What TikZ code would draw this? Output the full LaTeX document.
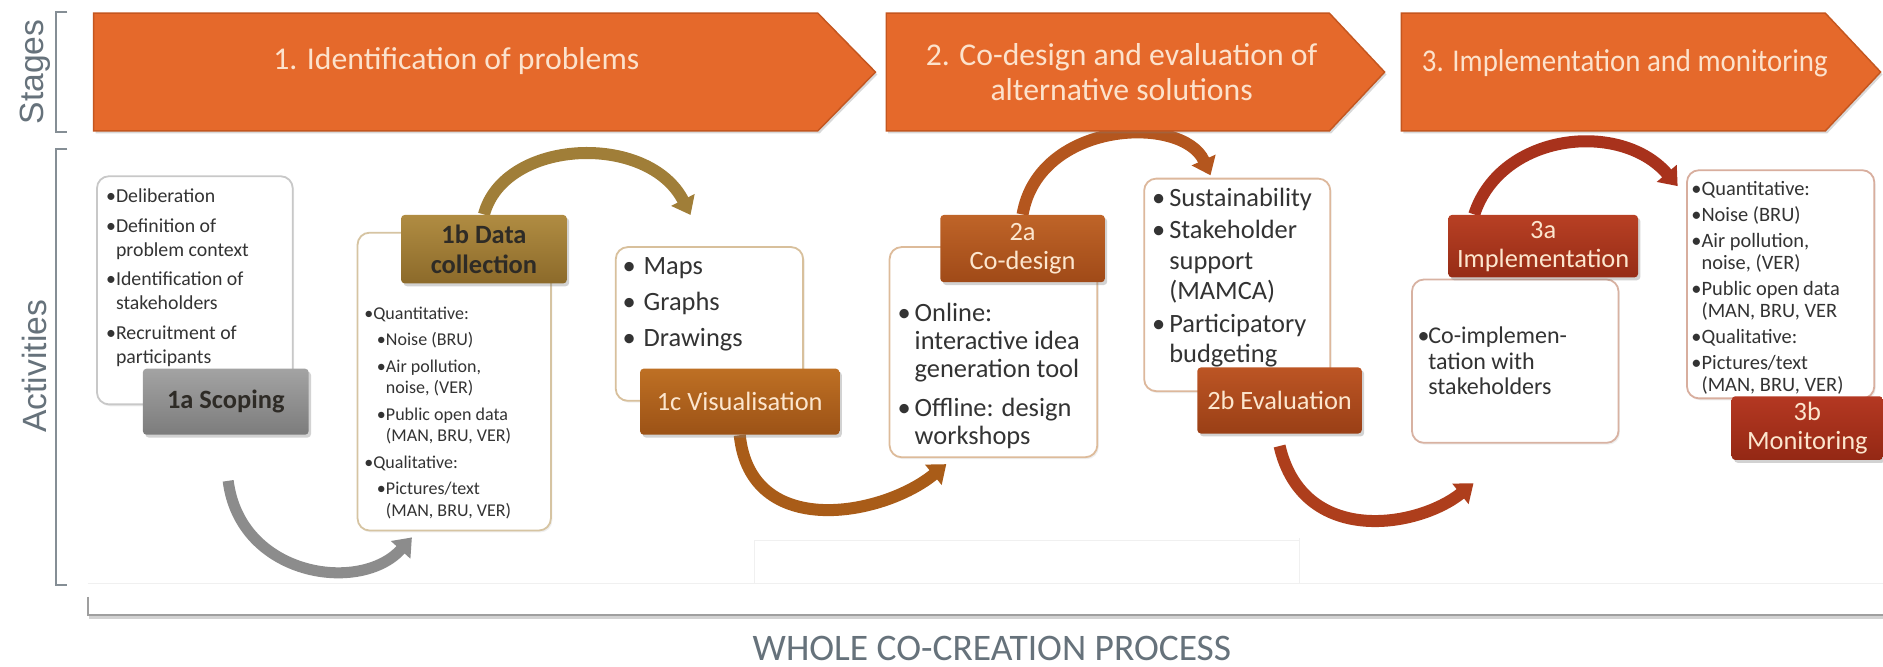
\documentclass[tikz,border=0pt]{standalone}
\usepackage{fontspec}
\setmainfont{Carlito}
\newfontfamily\arialf{Liberation Sans}
\usetikzlibrary{arrows.meta,shadows,calc}
\definecolor{stagefill}{HTML}{E5692B}
\definecolor{stageedge}{HTML}{C4561F}
\definecolor{stagetext}{HTML}{FCE2CC}
\definecolor{axisgray}{HTML}{66727B}
\definecolor{bodytext}{HTML}{333333}
\definecolor{labdark}{HTML}{2E2B26}
\definecolor{lablight}{HTML}{FCE6CE}
\definecolor{bd1a}{HTML}{C8C8C8}
\definecolor{bd1b}{HTML}{D6C4A2}
\definecolor{bd1c}{HTML}{D8C09C}
\definecolor{bd2a}{HTML}{DDBB9A}
\definecolor{bd2b}{HTML}{DDB89C}
\definecolor{bd3a}{HTML}{D8B2A2}
\definecolor{bd3b}{HTML}{D8AE9E}
\definecolor{arcgray}{HTML}{8C8C8C}
\definecolor{arcgold}{HTML}{A07E38}
\definecolor{arcbrown}{HTML}{A95C18}
\definecolor{arcorange}{HTML}{B4561E}
\definecolor{arcred}{HTML}{AE3E1C}
\definecolor{arcdeep}{HTML}{A8321C}
\definecolor{laT}{HTML}{A3A3A3}\definecolor{laB}{HTML}{7C7C7C}
\definecolor{lbT}{HTML}{B08C42}\definecolor{lbB}{HTML}{8C6A2A}
\definecolor{lcT}{HTML}{BE7024}\definecolor{lcB}{HTML}{9C5216}
\definecolor{ldT}{HTML}{BF6428}\definecolor{ldB}{HTML}{A04A18}
\definecolor{leT}{HTML}{BC5524}\definecolor{leB}{HTML}{9A3F16}
\definecolor{lfT}{HTML}{B84024}\definecolor{lfB}{HTML}{962C16}
\definecolor{lgT}{HTML}{B43822}\definecolor{lgB}{HTML}{942814}
\pgfdeclarelayer{bg}
\pgfdeclarelayer{arcs}
\pgfsetlayers{bg,arcs,main}
\newcommand{\bu}[1]{\makebox[#1][l]{•}}
\newcommand{\ind}[1]{\hspace*{#1}}
\begin{document}
\begin{tikzpicture}[x=0.5pt,y=-0.5pt,
  stageshape/.style={fill=stagefill, draw=stageedge, line width=0.6pt,
     drop shadow={shadow xshift=0.8pt, shadow yshift=-1pt, opacity=0.3}},
  stagetxt/.style={text=stagetext, font=\fontsize{13.2}{14.5}\selectfont, align=center, inner sep=0pt},
  sidelabel/.style={rotate=90, text=axisgray, font=\arialf\fontsize{14}{14}\selectfont, inner sep=0pt},
  brk/.style={draw=axisgray!80, line width=0.85pt},
  tbox/.style={draw=#1, fill=white, line width=0.75pt, rounded corners=5pt, anchor=north west, inner sep=0pt,
     drop shadow={shadow xshift=0.6pt, shadow yshift=-0.8pt, opacity=0.12}},
  txt/.style={text=bodytext, align=left, anchor=north west, inner sep=0pt},
  lab/.style={rounded corners=1.5pt, inner sep=0pt, align=center,
     drop shadow={shadow xshift=1pt, shadow yshift=-1.2pt, opacity=0.35}},
  labd/.style={lab, text=labdark, font=\fontsize{11}{12.5}\selectfont\bfseries},
  labl/.style={lab, text=lablight, font=\fontsize{11}{12}\selectfont},
  curvearrow/.style={line width=5pt, -{Triangle[width=10.5pt,length=7pt]}},
]
\begin{pgfonlayer}{bg}
  \fill[white] (0,0) rectangle (1568,555);
\end{pgfonlayer}
\useasboundingbox (0,0) rectangle (1568,555);

% stage arrows
\path[stageshape] (78,11) -- (681,11) -- (729,60) -- (681,109) -- (78,109) -- cycle;
\path[stageshape] (738,11) -- (1107,11) -- (1153,60) -- (1107,109) -- (738,109) -- cycle;
\path[stageshape] (1167,11) -- (1520,11) -- (1566,60) -- (1520,109) -- (1167,109) -- cycle;
\node[stagetxt] (s1) at (380,51) {1. Identification of problems};
\node[stagetxt] (s2) at (934,60) {2. Co-design and evaluation of\\alternative solutions};
\node[stagetxt] (s3) at (1353,53) {\scalebox{0.91}[1]{3. Implementation and monitoring}};

% side labels and brackets
\node[sidelabel] (stg) at (29,60) {Stages};
\node[sidelabel] (act) at (29,305) {Activities};
\draw[brk] (56,10) -- (47,10) -- (47,110) -- (56,110);
\draw[brk] (56,124) -- (47,124) -- (47,487) -- (56,487);

% faint frames
\draw[gray!12, line width=0.5pt] (73,486) -- (1568,486) (628,450) -- (628,486) (1082,448) -- (1082,486) (628,450) -- (1082,450);

% whole process bracket
\draw[gray!35, line width=1.6pt] (74,514) -- (1568,514);
\draw[gray!75, line width=0.7pt] (73,497) -- (73,512) -- (1568,512);
\node[font=\fontsize{15.6}{16}\selectfont, text=axisgray, inner sep=0pt] (whole) at (826,540) {WHOLE CO-CREATION PROCESS};

% text boxes
\node[tbox=bd1a, minimum width=81.5pt, minimum height=95pt] (T1a) at (80,146) {};
\node[tbox=bd1b, minimum width=80.5pt, minimum height=124pt] (T1b) at (297,193) {};
\node[tbox=bd1c, minimum width=78pt, minimum height=64pt] (T1c) at (512,205) {};
\node[tbox=bd2a, minimum width=86.5pt, minimum height=87.5pt] (T2a) at (740,205) {};
\node[tbox=bd2b, minimum width=77.5pt, minimum height=88.5pt] (T2b) at (952,148) {};
\node[tbox=bd3a, minimum width=86pt, minimum height=68pt] (T3a) at (1175,232) {};
\node[tbox=bd3b, minimum width=78pt, minimum height=95pt] (T3b) at (1404,141) {};

% text contents
\node[txt, font=\fontsize{8.25}{10}\selectfont] (t1a) at (88,157)
 {\bu{0.5em}Deliberation\\[2.25pt]
  \bu{0.5em}Definition of\\
  \ind{0.5em}problem context\\[2.25pt]
  \bu{0.5em}Identification of\\
  \ind{0.5em}stakeholders\\[2.25pt]
  \bu{0.5em}Recruitment of\\
  \ind{0.5em}participants};
\node[txt, font=\fontsize{7.5}{9}\selectfont] (t1b) at (303,255)
 {\bu{0.5em}Quantitative:\\[2pt]
  \ind{0.7em}\bu{0.5em}Noise (BRU)\\[2pt]
  \ind{0.7em}\bu{0.5em}Air pollution,\\
  \ind{1.2em}noise, (VER)\\[2pt]
  \ind{0.7em}\bu{0.5em}Public open data\\
  \ind{1.2em}(MAN, BRU, VER)\\[2pt]
  \bu{0.5em}Qualitative:\\[2pt]
  \ind{0.7em}\bu{0.5em}Pictures/text\\
  \ind{1.2em}(MAN, BRU, VER)};
\node[txt, font=\fontsize{11}{15}\selectfont] (t1c) at (518,214)
 {\bu{0.8em}Maps\\ \bu{0.8em}Graphs\\ \bu{0.8em}Drawings};
\node[txt, font=\fontsize{11}{11.75}\selectfont] (t2a) at (747,252)
 {\bu{0.65em}Online:\\
  \ind{0.65em}interactive idea\\
  \ind{0.65em}generation tool\\[4.25pt]
  \bu{0.65em}Offline: design\\
  \ind{0.65em}workshops};
\node[txt, font=\fontsize{11}{12.75}\selectfont] (t2b) at (959,156)
 {\bu{0.65em}Sustainability\\[0.75pt]
  \bu{0.65em}Stakeholder\\
  \ind{0.65em}support\\
  \ind{0.65em}(MAMCA)\\[0.75pt]
  \bu{0.65em}Participatory\\
  \ind{0.65em}budgeting};
\node[txt, font=\fontsize{10}{10.5}\selectfont] (t3a) at (1180,272)
 {\bu{0.45em}Co-implemen-\\
  \ind{0.45em}tation with\\
  \ind{0.45em}stakeholders};
\node[txt, font=\fontsize{8.5}{9.25}\selectfont] (t3b) at (1408,151)
 {\bu{0.5em}Quantitative:\\[1.5pt]
  \bu{0.5em}Noise (BRU)\\[1.5pt]
  \bu{0.5em}Air pollution,\\
  \ind{0.5em}noise, (VER)\\[1.5pt]
  \bu{0.5em}Public open data\\
  \ind{0.5em}(MAN, BRU, VER\\[1.5pt]
  \bu{0.5em}Qualitative:\\[1.5pt]
  \bu{0.5em}Pictures/text\\
  \ind{0.5em}(MAN, BRU, VER)};

% activity labels
\node[labd, minimum width=69pt, minimum height=27.5pt, top color=laT, bottom color=laB] (L1a) at (188,334.5) {1a Scoping};
\node[labd, minimum width=69pt, minimum height=28.5pt, top color=lbT, bottom color=lbB] (L1b) at (403,207.5) {1b Data\\collection};
\node[labl, minimum width=83pt, minimum height=27.5pt, top color=lcT, bottom color=lcB] (L1c) at (616,334.5) {1c Visualisation};
\node[labl, minimum width=68.5pt, minimum height=28pt, top color=ldT, bottom color=ldB] (L2a) at (851.5,207) {2a\\Co-design};
\node[labl, minimum width=68.5pt, minimum height=27.5pt, top color=leT, bottom color=leB] (L2b) at (1065.5,333.5) {2b Evaluation};
\node[labl, minimum width=79pt, minimum height=26pt, top color=lfT, bottom color=lfB] (L3a) at (1285,205) {3a\\Implementation};
\node[labl, minimum width=63pt, minimum height=26.5pt, top color=lgT, bottom color=lgB] (L3b) at (1505,356.5) {3b\\Monitoring};

% curved arrows
\begin{pgfonlayer}{arcs}
\draw[curvearrow, arcgray, line width=4.6pt] ($(L1a.south)+(2,38)$) .. controls (200,480) and (300,495) .. ($(T1b.south west)+(46,5)$);
\draw[curvearrow, arcgold] (L1b.north) .. controls (420,115) and (540,110) .. ($(T1c.north west)+(63,-26)$);
\draw[curvearrow, arcbrown] (L1c.south) .. controls (625,450) and (735,430) .. ($(T2a.south west)+(48,5)$);
\draw[curvearrow, arcorange] (L2a.north) .. controls (865,100) and (985,95) .. ($(T2b.north west)+(56,-2)$);
\draw[curvearrow, arcred] ($(L2b.south)+(0,10)$) .. controls (1085,455) and (1180,440) .. ($(T3a.south west)+(52,33)$);
\draw[curvearrow, arcdeep] ($(L3a.north west)+(22,0)$) .. controls (1250,110) and (1350,100) .. ($(T3b.north west)+(-7,14)$);
\end{pgfonlayer}
\end{tikzpicture}
\end{document}
